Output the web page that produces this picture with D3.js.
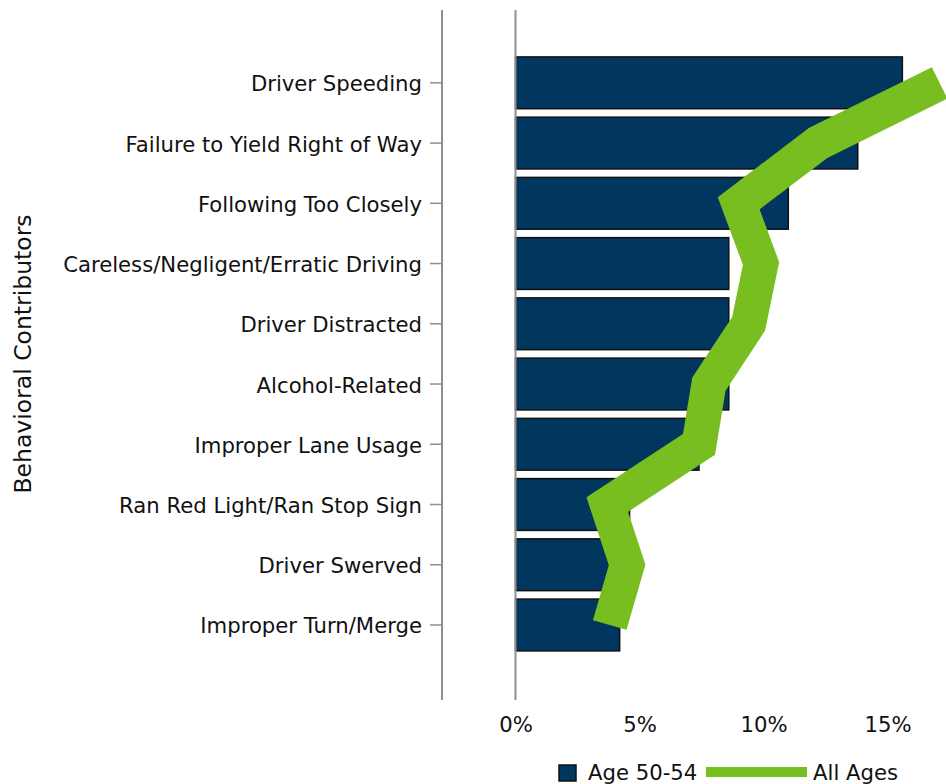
<!DOCTYPE html>
<html>
<head>
<meta charset="utf-8">
<script src="https://cdn.jsdelivr.net/npm/d3@7"></script>
<style>
  html, body { margin: 0; padding: 0; background: #fff; }
  svg { display: block; }
  text { font-family: "DejaVu Sans", sans-serif; fill: #111; }
</style>
</head>
<body>
<svg id="chart" width="946" height="784"></svg>
<script>
// Behavioral contributors, share of crashes (%)
const categories = [
  "Driver Speeding",
  "Failure to Yield Right of Way",
  "Following Too Closely",
  "Careless/Negligent/Erratic Driving",
  "Driver Distracted",
  "Alcohol-Related",
  "Improper Lane Usage",
  "Ran Red Light/Ran Stop Sign",
  "Driver Swerved",
  "Improper Turn/Merge"
];
const age5054 = [15.6, 13.8, 11.0, 8.6, 8.6, 8.6, 7.4, 4.6, 4.8, 4.2];
const allAges = [17.1, 12.2, 9.0, 9.9, 9.4, 7.8, 7.4, 3.7, 4.5, 3.8];
const xTicks = [0, 5, 10, 15];
const seriesNames = ["Age 50-54", "All Ages"];

const barColor = "#01365f";
const lineColor = "#78be20";
const axisColor = "#8f8f8f";
const fontSize = 21.2;

const svg = d3.select("#chart");

const x = d3.scaleLinear().domain([0, 15]).range([515.5, 887.5]);
const y = d3.scaleBand()
  .domain(categories)
  .range([52.7, 655.1])
  .paddingInner(0.14)
  .paddingOuter(0.07);

const axisTop = 10, axisBottom = 700;

// Category axis (left)
const yAxis = svg.append("g").attr("transform", "translate(442,0)")
  .call(d3.axisLeft(y).tickSize(12).tickPadding(8));
yAxis.select(".domain").remove();
yAxis.selectAll(".tick line").attr("stroke", axisColor).attr("stroke-width", 1.5);
yAxis.selectAll(".tick text").attr("font-size", fontSize).attr("fill", "#111")
  .attr("font-family", "DejaVu Sans, sans-serif").attr("dy", "0.4em");
svg.append("line")
  .attr("x1", 442).attr("x2", 442).attr("y1", axisTop).attr("y2", axisBottom)
  .attr("stroke", axisColor).attr("stroke-width", 2);

// Bars
svg.append("g").selectAll("rect")
  .data(categories)
  .join("rect")
  .attr("x", x(0))
  .attr("y", d => y(d))
  .attr("width", (d, i) => x(age5054[i]) - x(0))
  .attr("height", y.bandwidth())
  .attr("fill", barColor)
  .attr("stroke", "#111")
  .attr("stroke-width", 1.5);

// Zero line
svg.append("line")
  .attr("x1", x(0)).attr("x2", x(0)).attr("y1", axisTop).attr("y2", axisBottom)
  .attr("stroke", axisColor).attr("stroke-width", 2);

// All Ages line
const line = d3.line()
  .x(d => x(d.v))
  .y(d => y(d.c) + y.bandwidth() / 2);
svg.append("path")
  .datum(categories.map((c, i) => ({ c, v: allAges[i] })))
  .attr("d", line)
  .attr("fill", "none")
  .attr("stroke", lineColor)
  .attr("stroke-width", 35)
  .attr("stroke-linejoin", "miter")
  .attr("stroke-miterlimit", 10)
  .attr("stroke-linecap", "butt");

// Value axis labels (bottom)
const xAxis = svg.append("g").attr("transform", `translate(0,${axisBottom})`)
  .call(d3.axisBottom(x).tickValues(xTicks).tickSize(0).tickPadding(17)
    .tickFormat(d => d + "%"));
xAxis.select(".domain").remove();
xAxis.selectAll(".tick text").attr("font-size", fontSize).attr("fill", "#111")
  .attr("font-family", "DejaVu Sans, sans-serif");

// Axis title
svg.append("text")
  .attr("transform", "translate(31,354) rotate(-90)")
  .attr("text-anchor", "middle")
  .attr("font-size", 23.5)
  .text("Behavioral Contributors");

// Legend
const lg = svg.append("g");
lg.append("rect")
  .attr("x", 559).attr("y", 765).attr("width", 17).attr("height", 16)
  .attr("fill", barColor).attr("stroke", "#111").attr("stroke-width", 1.5);
lg.append("text")
  .attr("x", 588).attr("y", 780).attr("font-size", fontSize)
  .text(seriesNames[0]);
lg.append("line")
  .attr("x1", 706).attr("x2", 807).attr("y1", 772).attr("y2", 772)
  .attr("stroke", lineColor).attr("stroke-width", 10);
lg.append("text")
  .attr("x", 813).attr("y", 780).attr("font-size", fontSize)
  .text(seriesNames[1]);
</script>
</body>
</html>
